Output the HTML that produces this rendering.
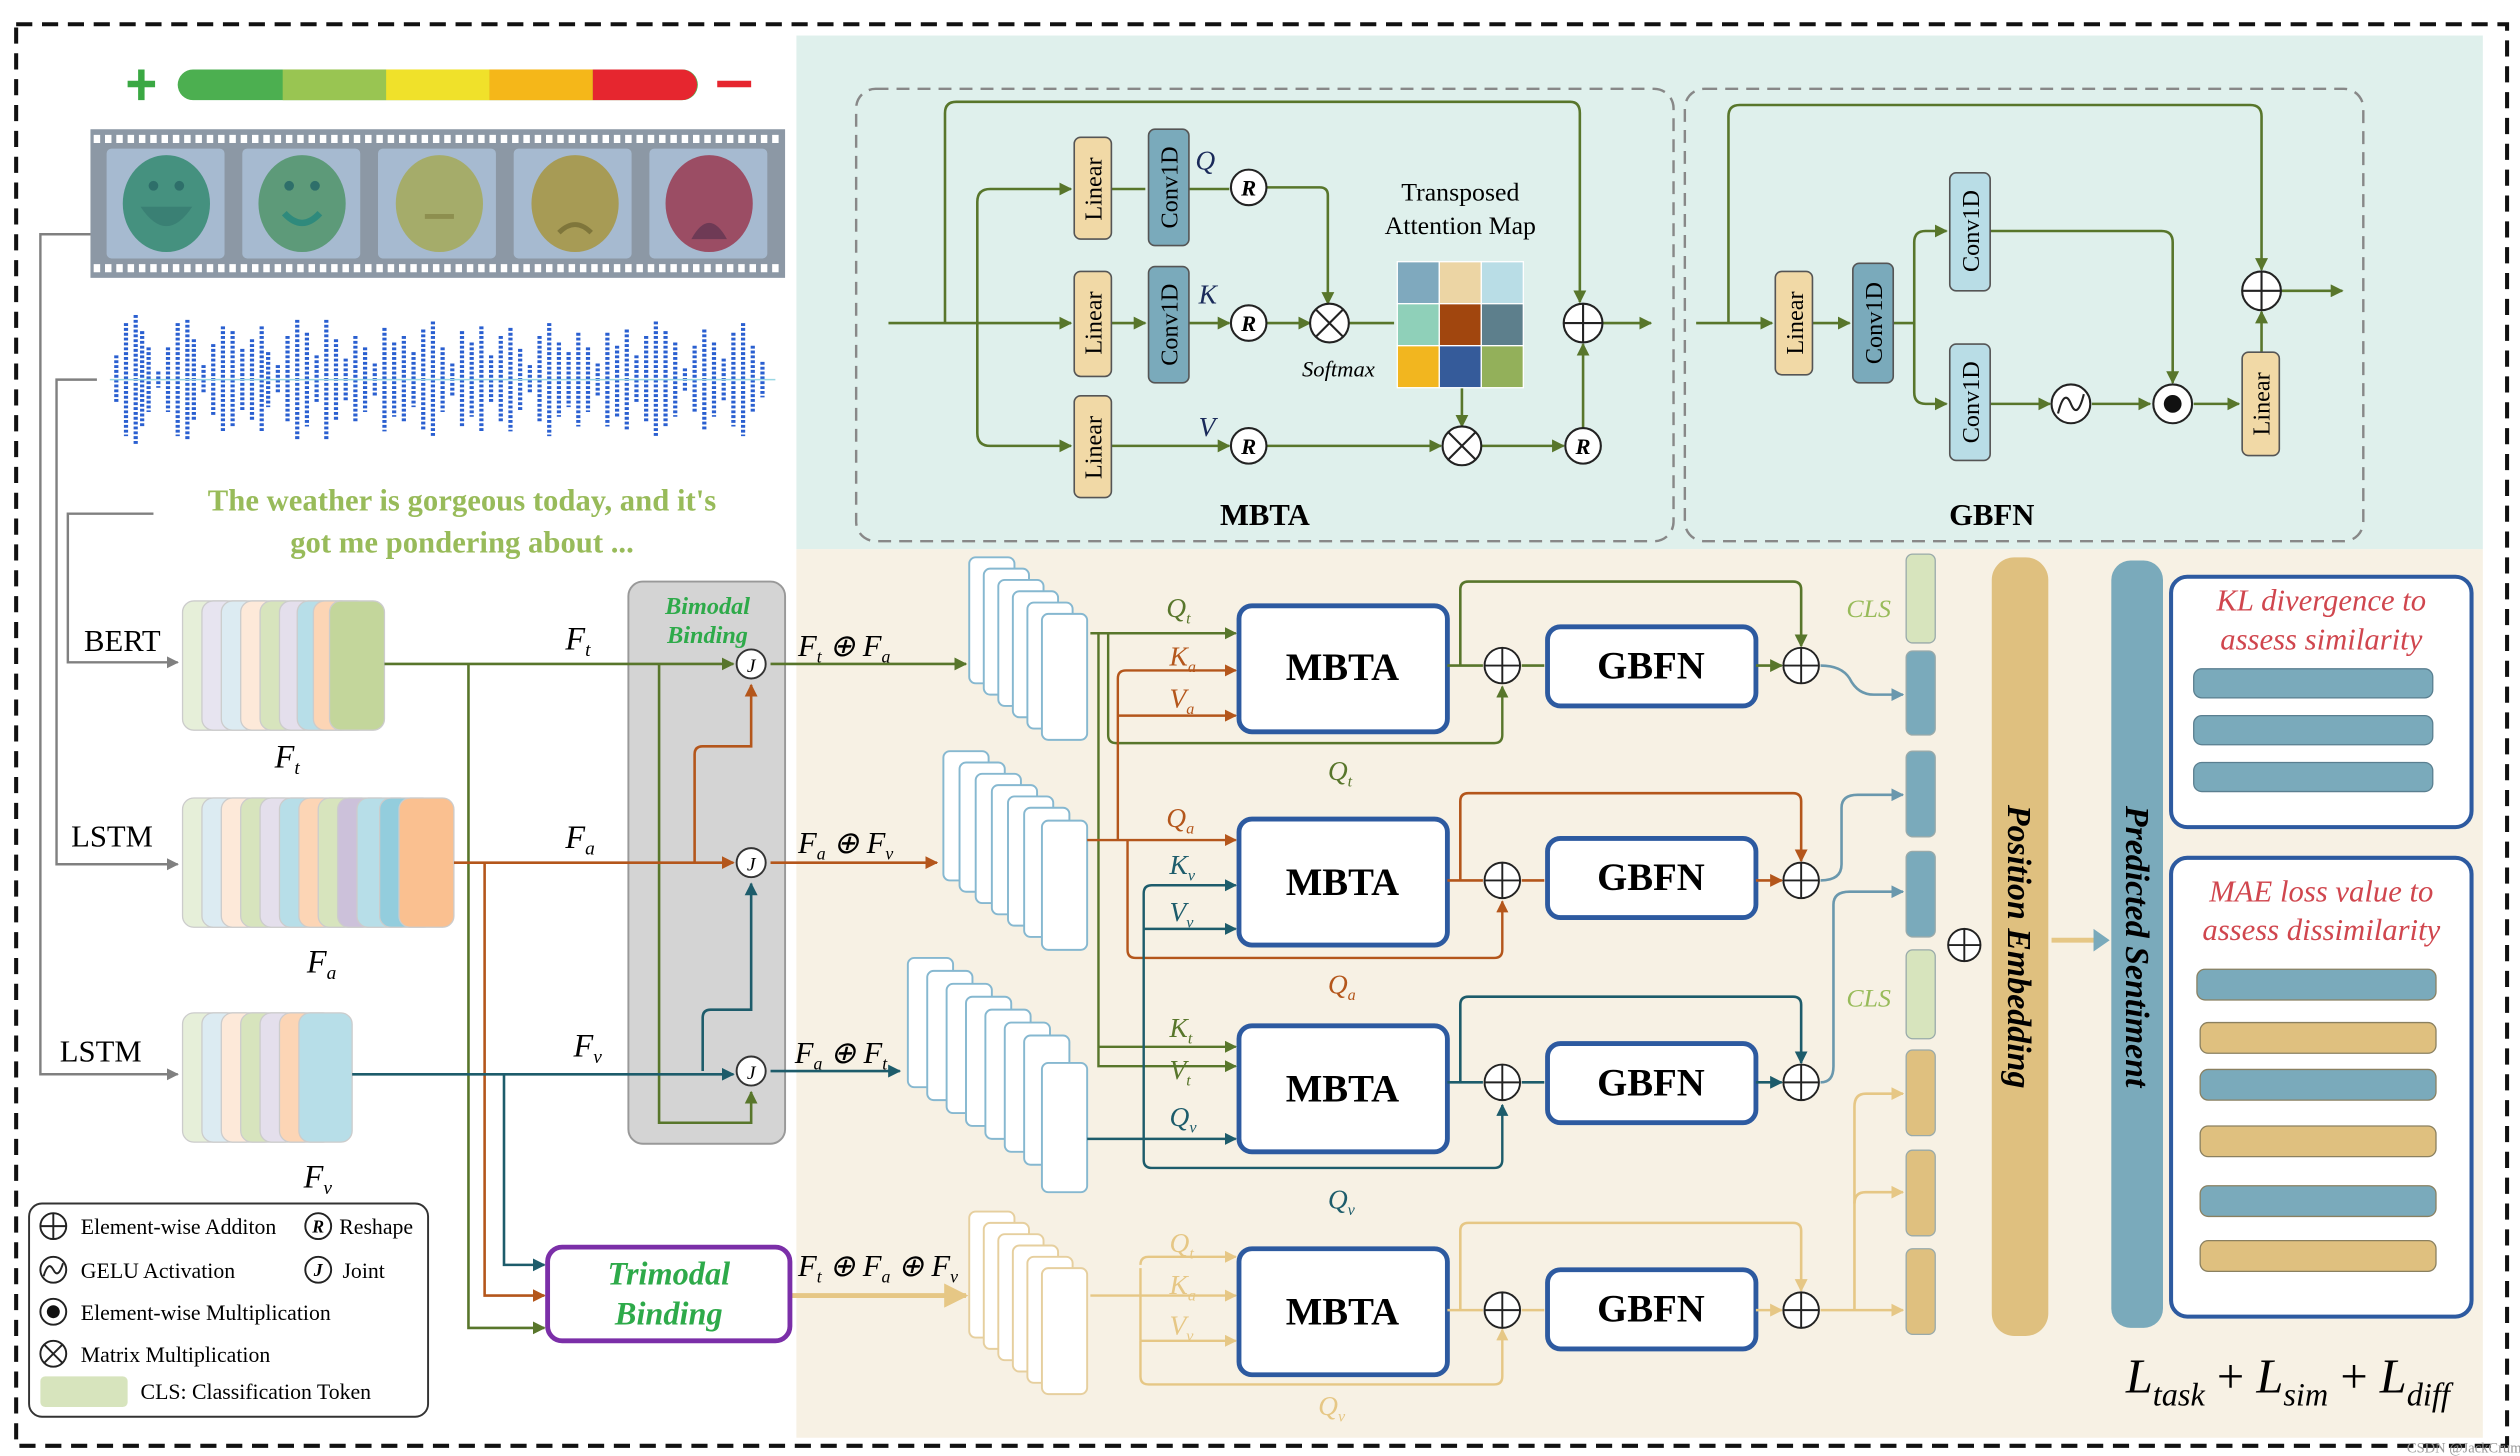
<!DOCTYPE html>
<html><head><meta charset="utf-8"><style>
html,body{margin:0;padding:0;background:#fff;}
svg{display:block;}
text{font-family:"Liberation Serif",serif;}
</style></head><body>
<svg width="2520" height="1456" viewBox="0 0 1560 901.3" preserveAspectRatio="none" xmlns="http://www.w3.org/2000/svg">
<defs>
<marker id="ag" viewBox="0 0 10 10" refX="9" refY="5" markerWidth="5" markerHeight="5" orient="auto"><path d="M0,0L10,5L0,10z" fill="#58762b"/></marker>
<marker id="ao" viewBox="0 0 10 10" refX="9" refY="5" markerWidth="5" markerHeight="5" orient="auto"><path d="M0,0L10,5L0,10z" fill="#b4561b"/></marker>
<marker id="at" viewBox="0 0 10 10" refX="9" refY="5" markerWidth="5" markerHeight="5" orient="auto"><path d="M0,0L10,5L0,10z" fill="#1d5c6b"/></marker>
<marker id="an" viewBox="0 0 10 10" refX="9" refY="5" markerWidth="5" markerHeight="5" orient="auto"><path d="M0,0L10,5L0,10z" fill="#e6c785"/></marker>
<marker id="ay" viewBox="0 0 10 10" refX="9" refY="5" markerWidth="5" markerHeight="5" orient="auto"><path d="M0,0L10,5L0,10z" fill="#808080"/></marker>
<marker id="ab" viewBox="0 0 10 10" refX="9" refY="5" markerWidth="5" markerHeight="5" orient="auto"><path d="M0,0L10,5L0,10z" fill="#6a98ad"/></marker>
</defs>
<rect width="1560" height="901.3" fill="#fff"/>
<rect x="493" y="22" width="1044" height="318" fill="#dff0ec"/>
<rect x="493" y="340" width="1044" height="550" fill="#f7f1e4"/>
<rect x="10" y="15" width="1542" height="880" fill="none" stroke="#111" stroke-width="2.5" stroke-dasharray="10,6"/>

<path d="M79,52H96M87.5,43V62" stroke="#3aa843" stroke-width="4"/>
<rect x="110" y="43" width="322" height="19" rx="9.5" fill="#4caf50"/>
<rect x="175" y="43" width="64" height="19" fill="#99c552"/>
<rect x="239" y="43" width="64" height="19" fill="#f0e12a"/>
<rect x="303" y="43" width="64" height="19" fill="#f5b719"/>
<path d="M367,43H422a9.5,9.5 0 0 1 0,19H367z" fill="#e6262f"/>
<path d="M444,52H465" stroke="#e6262f" stroke-width="4"/>

<rect x="56" y="80" width="430" height="92" fill="#8c98a5"/>
<path d="M58,86H484M58,166H484" stroke="#fff" stroke-width="5" stroke-dasharray="4,3"/>
<g fill="#a6bad0">
<rect x="66" y="92" width="73" height="68" rx="3"/><rect x="150" y="92" width="73" height="68" rx="3"/><rect x="234" y="92" width="73" height="68" rx="3"/><rect x="318" y="92" width="73" height="68" rx="3"/><rect x="402" y="92" width="73" height="68" rx="3"/>
</g>
<ellipse cx="103" cy="126" rx="27" ry="30" fill="#45917f"/>
<ellipse cx="187" cy="126" rx="27" ry="30" fill="#5d9a79"/>
<ellipse cx="272" cy="126" rx="27" ry="30" fill="#a5ac6a"/>
<ellipse cx="356" cy="126" rx="27" ry="30" fill="#a79b55"/>
<ellipse cx="439" cy="126" rx="27" ry="30" fill="#9b4d64"/>
<g fill="#2e6f6a"><circle cx="95" cy="115" r="3"/><circle cx="111" cy="115" r="3"/><circle cx="179" cy="115" r="3"/><circle cx="195" cy="115" r="3"/></g>
<path d="M87,128Q103,152 119,128z" fill="#3a8074"/>
<path d="M176,132Q187,144 198,132" stroke="#2f8a7c" stroke-width="4" fill="none"/>
<path d="M263,134H281" stroke="#8d8f4f" stroke-width="3"/>
<path d="M346,144Q356,134 366,144" stroke="#7f763b" stroke-width="3" fill="none"/>
<path d="M428,148Q439,128 450,148z" fill="#6e3a55"/>

<g stroke="#2a5fd0" stroke-width="2.6" stroke-dasharray="1.8,1.2">
<path d="M72,220V250M78,200V270M84,195V275M88,205V265M92,215V255M98,230V240M104,215V255M110,200V270M116,198V272M120,210V260M126,226V244M132,213V257M138,202V268M144,205V265M150,216V254M156,210V260M162,202V268M166,218V252M172,226V244M178,208V262M184,198V272M190,206V264M196,220V250M202,198V272M208,210V260M214,222V248M220,208V262M226,215V255M232,225V245M238,203V267M244,212V258M250,208V262M256,218V252M262,204V266M268,199V271M274,215V255M280,225V245M286,205V265M292,212V258M298,202V268M304,220V250M310,208V262M316,203V267M322,216V254M328,226V244M334,208V262M340,200V270M346,212V258M352,218V252M358,206V264M364,215V255M370,225V245M376,206V264M382,214V258M388,204V266M394,220V250M400,208V262M406,199V271M412,205V265M418,212V258M424,228V242M430,214V256M436,204V266M442,212V258M448,222V248M454,206V264M460,200V270M466,214V256M472,224V246"/>
</g>
<path d="M68,235H480" stroke="#9ad7e3" stroke-width="1"/>

<text x="286" y="316" font-size="19" font-weight="bold" fill="#98bb5a" text-anchor="middle">The weather is gorgeous today, and it's</text>
<text x="286" y="342" font-size="19" font-weight="bold" fill="#98bb5a" text-anchor="middle">got me pondering about ...</text>

<g stroke="#808080" stroke-width="1.5" fill="none">
<path d="M56,145H25V665H110" marker-end="url(#ay)"/>
<path d="M60,235H35V535H110" marker-end="url(#ay)"/>
<path d="M95,318H42V410H110" marker-end="url(#ay)"/>
</g>
<text x="52" y="403" font-size="19">BERT</text>
<text x="44" y="524" font-size="19">LSTM</text>
<text x="37" y="657" font-size="19">LSTM</text>

<g stroke="#ccc" stroke-width="0.8">
<rect x="113" y="372" width="34" height="80" rx="7" fill="#e6efd9"/><rect x="125" y="372" width="34" height="80" rx="7" fill="#e7e4f0"/><rect x="137" y="372" width="34" height="80" rx="7" fill="#dcebf2"/><rect x="149" y="372" width="34" height="80" rx="7" fill="#fde9d9"/><rect x="161" y="372" width="34" height="80" rx="7" fill="#d7e4bd"/><rect x="173" y="372" width="34" height="80" rx="7" fill="#e4dfec"/><rect x="184" y="372" width="34" height="80" rx="7" fill="#b7dee8"/><rect x="194" y="372" width="34" height="80" rx="7" fill="#fcd5b5"/><rect x="204" y="372" width="34" height="80" rx="7" fill="#c3d69b"/>
<rect x="113" y="494" width="34" height="80" rx="7" fill="#e6efd9"/><rect x="125" y="494" width="34" height="80" rx="7" fill="#dcebf2"/><rect x="137" y="494" width="34" height="80" rx="7" fill="#fde9d9"/><rect x="149" y="494" width="34" height="80" rx="7" fill="#d7e4bd"/><rect x="161" y="494" width="34" height="80" rx="7" fill="#e4dfec"/><rect x="173" y="494" width="34" height="80" rx="7" fill="#b7dee8"/><rect x="185" y="494" width="34" height="80" rx="7" fill="#fcd5b5"/><rect x="197" y="494" width="34" height="80" rx="7" fill="#d7e4bd"/><rect x="209" y="494" width="34" height="80" rx="7" fill="#ccc1da"/><rect x="221" y="494" width="34" height="80" rx="7" fill="#b7dee8"/><rect x="235" y="494" width="34" height="80" rx="7" fill="#93cddd"/><rect x="247" y="494" width="34" height="80" rx="7" fill="#fac090"/>
<rect x="113" y="627" width="34" height="80" rx="7" fill="#e6efd9"/><rect x="125" y="627" width="34" height="80" rx="7" fill="#dcebf2"/><rect x="137" y="627" width="34" height="80" rx="7" fill="#fde9d9"/><rect x="149" y="627" width="34" height="80" rx="7" fill="#d7e4bd"/><rect x="161" y="627" width="34" height="80" rx="7" fill="#e4dfec"/><rect x="173" y="627" width="34" height="80" rx="7" fill="#fcd5b5"/><rect x="185" y="627" width="33" height="80" rx="7" fill="#b7dee8"/>
</g>
<text x="170" y="475" font-size="20" font-style="italic">F<tspan font-size="12" dy="4">t</tspan></text>
<text x="190" y="602" font-size="20" font-style="italic">F<tspan font-size="12" dy="4">a</tspan></text>
<text x="188" y="735" font-size="20" font-style="italic">F<tspan font-size="12" dy="4">v</tspan></text>

<rect x="389" y="360" width="97" height="348" rx="9" fill="#d4d4d4" stroke="#999" stroke-width="1.2"/>
<text x="438" y="380" font-size="15" font-weight="bold" font-style="italic" fill="#2eaa4a" text-anchor="middle">Bimodal</text>
<text x="438" y="398" font-size="15" font-weight="bold" font-style="italic" fill="#2eaa4a" text-anchor="middle">Binding</text>

<g fill="none" stroke-width="1.6">
<path d="M238,411H454" stroke="#58762b" marker-end="url(#ag)"/>
<path d="M290,411V822H337" stroke="#58762b" marker-end="url(#ag)"/>
<path d="M408,411V695H465V676" stroke="#58762b" marker-end="url(#ag)"/>
<path d="M281,534H454" stroke="#b4561b" marker-end="url(#ao)"/>
<path d="M300,534V802H337" stroke="#b4561b" marker-end="url(#ao)"/>
<path d="M430,534V467Q430,462 435,462H465V424" stroke="#b4561b" marker-end="url(#ao)"/>
<path d="M218,665H454" stroke="#1d5c6b" marker-end="url(#at)"/>
<path d="M312,665V783H337" stroke="#1d5c6b" marker-end="url(#at)"/>
<path d="M435,663V630Q435,625 440,625H465V547" stroke="#1d5c6b" marker-end="url(#at)"/>
<path d="M477,411H598" stroke="#58762b" marker-end="url(#ag)"/>
<path d="M477,534H580" stroke="#b4561b" marker-end="url(#ao)"/>
<path d="M477,663H557" stroke="#1d5c6b" marker-end="url(#at)"/>
<path d="M489,802H598" stroke="#e6c785" stroke-width="3" marker-end="url(#an)"/>
</g>
<g fill="#fff" stroke="#333" stroke-width="1.2"><circle cx="465" cy="411" r="9"/><circle cx="465" cy="534" r="9"/><circle cx="465" cy="663" r="9"/></g>
<g font-size="12" font-style="italic" text-anchor="middle"><text x="465" y="416">J</text><text x="465" y="539">J</text><text x="465" y="668">J</text></g>
<text x="350" y="402" font-size="20" font-style="italic">F<tspan font-size="12" dy="4">t</tspan></text>
<text x="350" y="525" font-size="20" font-style="italic">F<tspan font-size="12" dy="4">a</tspan></text>
<text x="355" y="654" font-size="20" font-style="italic">F<tspan font-size="12" dy="4">v</tspan></text>
<g font-size="19" font-style="italic">
<text x="494" y="406">F<tspan font-size="11" dy="4">t</tspan><tspan dy="-4"> ⊕ F</tspan><tspan font-size="11" dy="4">a</tspan></text>
<text x="494" y="528">F<tspan font-size="11" dy="4">a</tspan><tspan dy="-4"> ⊕ F</tspan><tspan font-size="11" dy="4">v</tspan></text>
<text x="492" y="658">F<tspan font-size="11" dy="4">a</tspan><tspan dy="-4"> ⊕ F</tspan><tspan font-size="11" dy="4">t</tspan></text>
<text x="494" y="790">F<tspan font-size="11" dy="4">t</tspan><tspan dy="-4"> ⊕ F</tspan><tspan font-size="11" dy="4">a</tspan><tspan dy="-4"> ⊕ F</tspan><tspan font-size="11" dy="4">v</tspan></text>
</g>

<rect x="339" y="772" width="150" height="58" rx="9" fill="#fff" stroke="#7b2fa8" stroke-width="3"/>
<text x="414" y="795" font-size="20" font-weight="bold" font-style="italic" fill="#2eaa4a" text-anchor="middle">Trimodal</text>
<text x="414" y="820" font-size="20" font-weight="bold" font-style="italic" fill="#2eaa4a" text-anchor="middle">Binding</text>

<rect x="18" y="745" width="247" height="132" rx="8" fill="#fff" stroke="#333" stroke-width="1.2"/>
<g fill="none" stroke="#222" stroke-width="1.2">
<circle cx="33" cy="759" r="8"/><path d="M25,759H41M33,751V767"/>
<circle cx="33" cy="786" r="8"/><path d="M27,790Q30,780 33,786T39,782"/>
<circle cx="33" cy="812" r="8"/>
<circle cx="33" cy="838" r="8"/><path d="M27.5,832.5L38.5,843.5M38.5,832.5L27.5,843.5"/>
<circle cx="197" cy="759" r="8"/><circle cx="197" cy="786" r="8"/>
</g>
<circle cx="33" cy="812" r="4" fill="#111"/>
<rect x="25" y="852" width="54" height="19" rx="3" fill="#d7e4bd"/>
<g font-size="13.5">
<text x="50" y="764">Element-wise Additon</text>
<text x="50" y="791">GELU Activation</text>
<text x="50" y="817">Element-wise Multiplication</text>
<text x="50" y="843">Matrix Multiplication</text>
<text x="87" y="866">CLS: Classification Token</text>
<text x="210" y="764">Reshape</text>
<text x="212" y="791">Joint</text>
</g>
<g font-size="11" font-style="italic" font-weight="bold" text-anchor="middle"><text x="197" y="763">R</text><text x="197" y="790">J</text></g>

<g fill="#fff" stroke="#86b8d0" stroke-width="1.2">
<rect x="600" y="345" width="28" height="78" rx="4"/><rect x="609" y="352" width="28" height="78" rx="4"/><rect x="618" y="359" width="28" height="78" rx="4"/><rect x="627" y="366" width="28" height="78" rx="4"/><rect x="636" y="373" width="28" height="78" rx="4"/><rect x="645" y="380" width="28" height="78" rx="4"/>
<rect x="584" y="465" width="28" height="80" rx="4"/><rect x="594" y="472" width="28" height="80" rx="4"/><rect x="604" y="479" width="28" height="80" rx="4"/><rect x="614" y="486" width="28" height="80" rx="4"/><rect x="624" y="493" width="28" height="80" rx="4"/><rect x="634" y="500" width="28" height="80" rx="4"/><rect x="645" y="508" width="28" height="80" rx="4"/>
<rect x="562" y="593" width="28" height="80" rx="4"/><rect x="574" y="601" width="28" height="80" rx="4"/><rect x="586" y="609" width="28" height="80" rx="4"/><rect x="598" y="617" width="28" height="80" rx="4"/><rect x="610" y="625" width="28" height="80" rx="4"/><rect x="622" y="633" width="28" height="80" rx="4"/><rect x="634" y="641" width="28" height="80" rx="4"/><rect x="645" y="658" width="28" height="80" rx="4"/>
</g>
<g fill="#fff" stroke="#e6cf9e" stroke-width="1.2">
<rect x="600" y="750" width="28" height="78" rx="4"/><rect x="609" y="757" width="28" height="78" rx="4"/><rect x="618" y="764" width="28" height="78" rx="4"/><rect x="627" y="771" width="28" height="78" rx="4"/><rect x="636" y="778" width="28" height="78" rx="4"/><rect x="645" y="785" width="28" height="78" rx="4"/>
</g>

<g fill="none" stroke-width="1.5">
<path d="M675,392H765" stroke="#58762b" marker-end="url(#ag)"/>
<path d="M680,392V660H765" stroke="#58762b" marker-end="url(#ag)"/>
<path d="M680,648H765" stroke="#58762b" marker-end="url(#ag)"/>
<path d="M686,392V455Q686,460 691,460H925Q930,460 930,455V425" stroke="#58762b" marker-end="url(#ag)"/>
<path d="M673,520H765" stroke="#b4561b" marker-end="url(#ao)"/>
<path d="M692,520V420Q692,415 697,415H765" stroke="#b4561b" marker-end="url(#ao)"/>
<path d="M692,443H765" stroke="#b4561b" marker-end="url(#ao)"/>
<path d="M698,520V588Q698,593 703,593H925Q930,593 930,588V558" stroke="#b4561b" marker-end="url(#ao)"/>
<path d="M673,705H765" stroke="#1d5c6b" marker-end="url(#at)"/>
<path d="M708,705V553Q708,548 713,548H765" stroke="#1d5c6b" marker-end="url(#at)"/>
<path d="M708,575H765" stroke="#1d5c6b" marker-end="url(#at)"/>
<path d="M708,705V718Q708,723 713,723H925Q930,723 930,718V684" stroke="#1d5c6b" marker-end="url(#at)"/>
<path d="M675,802H765" stroke="#e6c785" marker-end="url(#an)"/>
<path d="M706,783Q706,778 711,778H765" stroke="#e6c785" marker-end="url(#an)"/>
<path d="M706,830V785M706,830H765" stroke="#e6c785" marker-end="url(#an)"/>
<path d="M706,830V852Q706,857 711,857H925Q930,857 930,852V823" stroke="#e6c785" marker-end="url(#an)"/>
</g>
<g font-size="17" font-style="italic">
<text x="722" y="382" fill="#58762b">Q<tspan font-size="10" dy="4">t</tspan></text>
<text x="724" y="412" fill="#b4561b">K<tspan font-size="10" dy="4">a</tspan></text>
<text x="724" y="438" fill="#b4561b">V<tspan font-size="10" dy="4">a</tspan></text>
<text x="822" y="483" fill="#58762b">Q<tspan font-size="10" dy="4">t</tspan></text>
<text x="722" y="512" fill="#b4561b">Q<tspan font-size="10" dy="4">a</tspan></text>
<text x="724" y="541" fill="#1d5c6b">K<tspan font-size="10" dy="4">v</tspan></text>
<text x="724" y="570" fill="#1d5c6b">V<tspan font-size="10" dy="4">v</tspan></text>
<text x="822" y="615" fill="#b4561b">Q<tspan font-size="10" dy="4">a</tspan></text>
<text x="724" y="642" fill="#58762b">K<tspan font-size="10" dy="4">t</tspan></text>
<text x="724" y="668" fill="#58762b">V<tspan font-size="10" dy="4">t</tspan></text>
<text x="724" y="697" fill="#1d5c6b">Q<tspan font-size="10" dy="4">v</tspan></text>
<text x="822" y="748" fill="#1d5c6b">Q<tspan font-size="10" dy="4">v</tspan></text>
<text x="724" y="775" fill="#e6c785">Q<tspan font-size="10" dy="4">t</tspan></text>
<text x="724" y="801" fill="#e6c785">K<tspan font-size="10" dy="4">a</tspan></text>
<text x="724" y="826" fill="#e6c785">V<tspan font-size="10" dy="4">v</tspan></text>
<text x="816" y="876" fill="#e6c785">Q<tspan font-size="10" dy="4">v</tspan></text>
</g>

<g fill="#fff" stroke="#2d5aa0" stroke-width="3">
<rect x="767" y="375" width="129" height="78" rx="8"/><rect x="767" y="507" width="129" height="78" rx="8"/><rect x="767" y="635" width="129" height="78" rx="8"/><rect x="767" y="773" width="129" height="78" rx="8"/>
<rect x="958" y="388" width="129" height="49" rx="8"/><rect x="958" y="519" width="129" height="49" rx="8"/><rect x="958" y="646" width="129" height="49" rx="8"/><rect x="958" y="786" width="129" height="49" rx="8"/>
</g>
<g font-size="24" font-weight="bold" text-anchor="middle">
<text x="831" y="421">MBTA</text><text x="831" y="554">MBTA</text><text x="831" y="682">MBTA</text><text x="831" y="820">MBTA</text>
<text x="1022" y="420">GBFN</text><text x="1022" y="551">GBFN</text><text x="1022" y="678">GBFN</text><text x="1022" y="818">GBFN</text>
</g>
<g fill="none" stroke-width="1.6">
<path d="M896,412H918M942,412H956M1087,412H1103" stroke="#58762b" marker-end="url(#ag)"/>
<path d="M904,412V365Q904,360 909,360H1110Q1115,360 1115,365V400" stroke="#58762b" marker-end="url(#ag)"/>
<path d="M896,545H918M942,545H956M1087,545H1103" stroke="#b4561b" marker-end="url(#ao)"/>
<path d="M904,545V496Q904,491 909,491H1110Q1115,491 1115,496V533" stroke="#b4561b" marker-end="url(#ao)"/>
<path d="M896,670H918M942,670H956M1087,670H1103" stroke="#1d5c6b" marker-end="url(#at)"/>
<path d="M904,670V622Q904,617 909,617H1110Q1115,617 1115,622V658" stroke="#1d5c6b" marker-end="url(#at)"/>
<path d="M896,811H918M942,811H956M1087,811H1103" stroke="#e6c785" marker-end="url(#an)"/>
<path d="M904,811V762Q904,757 909,757H1110Q1115,757 1115,762V799" stroke="#e6c785" marker-end="url(#an)"/>
<path d="M1127,412Q1140,412 1145,420Q1150,430 1160,430H1178" stroke="#6a98ad" marker-end="url(#ab)"/>
<path d="M1127,545Q1140,545 1140,535V500Q1140,492 1150,492H1178" stroke="#6a98ad" marker-end="url(#ab)"/>
<path d="M1127,670Q1135,670 1135,660V560Q1135,552 1145,552H1178" stroke="#6a98ad" marker-end="url(#ab)"/>
<path d="M1127,811H1178" stroke="#e6c785" marker-end="url(#an)"/>
<path d="M1148,811V745Q1148,738 1155,738H1178" stroke="#e6c785" marker-end="url(#an)"/>
<path d="M1148,745V685Q1148,677 1155,677H1178" stroke="#e6c785" marker-end="url(#an)"/>
</g>
<g fill="#fff" stroke="#222" stroke-width="1.2">
<circle cx="930" cy="412" r="11"/><circle cx="1115" cy="412" r="11"/><circle cx="930" cy="545" r="11"/><circle cx="1115" cy="545" r="11"/><circle cx="930" cy="670" r="11"/><circle cx="1115" cy="670" r="11"/><circle cx="930" cy="811" r="11"/><circle cx="1115" cy="811" r="11"/><circle cx="1216" cy="585" r="10"/>
</g>
<g stroke="#222" stroke-width="1.2">
<path d="M919,412H941M930,401V423M1104,412H1126M1115,401V423M919,545H941M930,534V556M1104,545H1126M1115,534V556M919,670H941M930,659V681M1104,670H1126M1115,659V681M919,811H941M930,800V822M1104,811H1126M1115,800V822M1206,585H1226M1216,575V595"/>
</g>

<g stroke="#9aa" stroke-width="0.8">
<rect x="1180" y="343" width="18" height="55" rx="4" fill="#d7e4bd"/>
<rect x="1180" y="403" width="18" height="52" rx="4" fill="#7aaabb"/>
<rect x="1180" y="465" width="18" height="53" rx="4" fill="#7aaabb"/>
<rect x="1180" y="527" width="18" height="53" rx="4" fill="#7aaabb"/>
<rect x="1180" y="588" width="18" height="55" rx="4" fill="#d7e4bd"/>
<rect x="1180" y="650" width="18" height="53" rx="4" fill="#dfc07f"/>
<rect x="1180" y="712" width="18" height="53" rx="4" fill="#dfc07f"/>
<rect x="1180" y="773" width="18" height="53" rx="4" fill="#dfc07f"/>
</g>
<text x="1143" y="382" font-size="16" font-style="italic" fill="#98bb5a">CLS</text>
<text x="1143" y="623" font-size="16" font-style="italic" fill="#98bb5a">CLS</text>

<rect x="1233" y="345" width="35" height="482" rx="14" fill="#dfc07f"/>
<text transform="translate(1243,586) rotate(90)" font-size="21" font-weight="bold" font-style="italic" text-anchor="middle">Position Embedding</text>
<path d="M1270,582H1303" stroke="#e6c785" stroke-width="3" fill="none"/>
<path d="M1296,575L1306,582L1296,589z" fill="#7aaabb"/>
<rect x="1307" y="347" width="32" height="475" rx="12" fill="#7aaabb"/>
<text transform="translate(1316,586) rotate(90)" font-size="21" font-weight="bold" font-style="italic" text-anchor="middle">Predicted Sentiment</text>

<rect x="1344" y="357" width="186" height="155" rx="10" fill="#fff" stroke="#2d5aa0" stroke-width="2.5"/>
<text x="1437" y="378" font-size="19" font-style="italic" fill="#d0464e" text-anchor="middle">KL divergence to</text>
<text x="1437" y="402" font-size="19" font-style="italic" fill="#d0464e" text-anchor="middle">assess similarity</text>
<g stroke="#5a7f90" stroke-width="0.8">
<rect x="1358" y="414" width="148" height="18" rx="5" fill="#7aaabb"/><rect x="1358" y="443" width="148" height="18" rx="5" fill="#7aaabb"/><rect x="1358" y="472" width="148" height="18" rx="5" fill="#7aaabb"/>
</g>
<rect x="1344" y="531" width="186" height="284" rx="10" fill="#fff" stroke="#2d5aa0" stroke-width="2.5"/>
<text x="1437" y="558" font-size="19" font-style="italic" fill="#d0464e" text-anchor="middle">MAE loss value to</text>
<text x="1437" y="582" font-size="19" font-style="italic" fill="#d0464e" text-anchor="middle">assess dissimilarity</text>
<g stroke="#8a8060" stroke-width="0.8">
<rect x="1360" y="600" width="148" height="19" rx="5" fill="#7aaabb"/><rect x="1362" y="633" width="146" height="19" rx="5" fill="#dfc07f"/><rect x="1362" y="662" width="146" height="19" rx="5" fill="#7aaabb"/><rect x="1362" y="697" width="146" height="19" rx="5" fill="#dfc07f"/><rect x="1362" y="734" width="146" height="19" rx="5" fill="#7aaabb"/><rect x="1362" y="768" width="146" height="19" rx="5" fill="#dfc07f"/>
</g>
<text x="1316" y="862" font-size="30" font-style="italic">L<tspan font-size="20" dy="8">task</tspan><tspan dy="-8" font-style="normal"> + </tspan>L<tspan font-size="20" dy="8">sim</tspan><tspan dy="-8" font-style="normal"> + </tspan>L<tspan font-size="20" dy="8">diff</tspan></text>
<text x="1490" y="899" font-size="9" fill="#999" font-family="Liberation Sans">CSDN @JackCrum</text>

<rect x="530" y="55" width="506" height="280" rx="12" fill="none" stroke="#888" stroke-width="1.5" stroke-dasharray="8,5"/>
<rect x="1043" y="55" width="420" height="280" rx="12" fill="none" stroke="#888" stroke-width="1.5" stroke-dasharray="8,5"/>
<g fill="none" stroke="#58762b" stroke-width="1.6">
<path d="M550,200H663" marker-end="url(#ag)"/>
<path d="M585,200V70Q585,63 592,63H972Q978,63 978,70V187" marker-end="url(#ag)"/>
<path d="M605,200V125Q605,117 613,117H663" marker-end="url(#ag)"/>
<path d="M605,200V268Q605,276 613,276H663" marker-end="url(#ag)"/>
<path d="M688,117H709M688,200H709" marker-end="url(#ag)"/>
<path d="M736,117H761M736,200H761" marker-end="url(#ag)"/>
<path d="M688,276H761" marker-end="url(#ag)"/>
<path d="M784,200H811" marker-end="url(#ag)"/>
<path d="M784,116H817Q822,116 822,121V188" marker-end="url(#ag)"/>
<path d="M835,200H863" />
<path d="M784,276H892" marker-end="url(#ag)"/>
<path d="M905,240V264" marker-end="url(#ag)"/>
<path d="M917,276H968" marker-end="url(#ag)"/>
<path d="M980,265V213" marker-end="url(#ag)"/>
<path d="M991,200H1022" marker-end="url(#ag)"/>
<path d="M1050,200H1097" marker-end="url(#ag)"/>
<path d="M1070,200V72Q1070,65 1077,65H1393Q1400,65 1400,72V167" marker-end="url(#ag)"/>
<path d="M1122,200H1145" marker-end="url(#ag)"/>
<path d="M1172,200H1185V150Q1185,143 1192,143H1205" marker-end="url(#ag)"/>
<path d="M1185,200V243Q1185,250 1192,250H1205" marker-end="url(#ag)"/>
<path d="M1232,143H1338Q1345,143 1345,150V237" marker-end="url(#ag)"/>
<path d="M1232,250H1269" marker-end="url(#ag)"/>
<path d="M1295,250H1331" marker-end="url(#ag)"/>
<path d="M1358,250H1386" marker-end="url(#ag)"/>
<path d="M1400,218V193" marker-end="url(#ag)"/>
<path d="M1412,180H1450" marker-end="url(#ag)"/>
</g>
<g stroke="#555" stroke-width="1">
<rect x="665" y="85" width="23" height="63" rx="4" fill="#f1d9a6"/><rect x="665" y="168" width="23" height="65" rx="4" fill="#f1d9a6"/><rect x="665" y="245" width="23" height="63" rx="4" fill="#f1d9a6"/>
<rect x="711" y="80" width="25" height="72" rx="4" fill="#7aaabb"/><rect x="711" y="165" width="25" height="72" rx="4" fill="#7aaabb"/>
<rect x="1099" y="168" width="23" height="64" rx="4" fill="#f1d9a6"/>
<rect x="1147" y="163" width="25" height="74" rx="4" fill="#7aaabb"/>
<rect x="1207" y="107" width="25" height="73" rx="4" fill="#b9dde6"/><rect x="1207" y="213" width="25" height="72" rx="4" fill="#b9dde6"/>
<rect x="1388" y="218" width="23" height="64" rx="4" fill="#f1d9a6"/>
</g>
<g font-size="15" text-anchor="middle">
<text transform="translate(682,117) rotate(-90)">Linear</text><text transform="translate(682,200) rotate(-90)">Linear</text><text transform="translate(682,277) rotate(-90)">Linear</text>
<text transform="translate(729,116) rotate(-90)">Conv1D</text><text transform="translate(729,201) rotate(-90)">Conv1D</text>
<text transform="translate(1116,200) rotate(-90)">Linear</text>
<text transform="translate(1165,200) rotate(-90)">Conv1D</text>
<text transform="translate(1225,143) rotate(-90)">Conv1D</text><text transform="translate(1225,249) rotate(-90)">Conv1D</text>
<text transform="translate(1405,250) rotate(-90)">Linear</text>
</g>
<g font-size="17" font-style="italic" fill="#1a2a5a"><text x="740" y="105">Q</text><text x="742" y="188">K</text><text x="742" y="270">V</text></g>
<g fill="#fff" stroke="#222" stroke-width="1.3">
<circle cx="773" cy="116" r="11"/><circle cx="773" cy="200" r="11"/><circle cx="773" cy="276" r="11"/><circle cx="980" cy="276" r="11"/>
<circle cx="823" cy="200" r="12"/><circle cx="905" cy="276" r="12"/><circle cx="980" cy="200" r="12"/>
<circle cx="1282" cy="250" r="12"/><circle cx="1345" cy="250" r="12"/><circle cx="1400" cy="180" r="12"/>
</g>
<g stroke="#222" stroke-width="1.3" fill="none">
<path d="M814.5,191.5L831.5,208.5M831.5,191.5L814.5,208.5M896.5,267.5L913.5,284.5M913.5,267.5L896.5,284.5M968,200H992M980,188V212M1388,180H1412M1400,168V192"/>
<path d="M1274,256Q1278,240 1282,250T1290,244"/>
</g>
<circle cx="1345" cy="250" r="5.5" fill="#111"/>
<g font-size="14" font-weight="bold" font-style="italic" text-anchor="middle"><text x="773" y="121">R</text><text x="773" y="205">R</text><text x="773" y="281">R</text><text x="980" y="281">R</text></g>
<text x="806" y="233" font-size="14" font-style="italic">Softmax</text>
<text x="904" y="124" font-size="16" text-anchor="middle">Transposed</text>
<text x="904" y="145" font-size="16" text-anchor="middle">Attention Map</text>
<g stroke="#fff" stroke-width="0.8">
<rect x="865" y="162" width="26" height="26" fill="#7fa9be"/><rect x="891" y="162" width="26" height="26" fill="#ecd5a4"/><rect x="917" y="162" width="26" height="26" fill="#b9dde6"/>
<rect x="865" y="188" width="26" height="26" fill="#8fd0b9"/><rect x="891" y="188" width="26" height="26" fill="#a1460e"/><rect x="917" y="188" width="26" height="26" fill="#5d7f8c"/>
<rect x="865" y="214" width="26" height="26" fill="#f2b61f"/><rect x="891" y="214" width="26" height="26" fill="#355b9a"/><rect x="917" y="214" width="26" height="26" fill="#93b05a"/>
</g>
<text x="783" y="325" font-size="19" font-weight="bold" text-anchor="middle">MBTA</text>
<text x="1233" y="325" font-size="19" font-weight="bold" text-anchor="middle">GBFN</text>
</svg>
</body></html>
